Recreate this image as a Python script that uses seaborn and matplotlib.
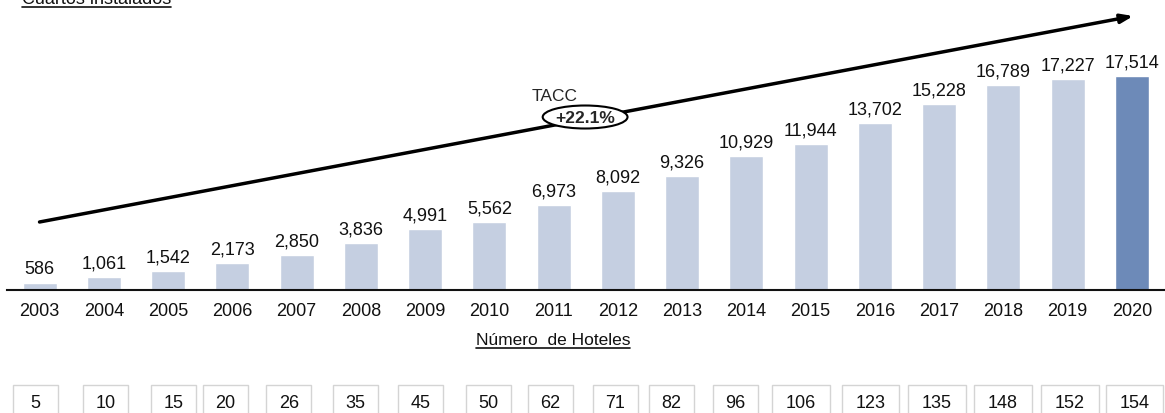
import matplotlib
matplotlib.use("Agg")
import matplotlib.pyplot as plt
from matplotlib.patches import Ellipse, Rectangle
from matplotlib.lines import Line2D
import seaborn as sns

# data
years = [str(y) for y in range(2003, 2021)]
rooms = [586, 1061, 1542, 2173, 2850, 3836, 4991, 5562, 6973, 8092,
         9326, 10929, 11944, 13702, 15228, 16789, 17227, 17514]
hotels = [5, 10, 15, 20, 26, 35, 45, 50, 62, 71, 82, 96, 106, 123, 135, 148, 152, 154]
cagr_label = "+22.1%"

# layout: small shifts of the hotel boxes relative to the bars (as in the original)
box_shift = [-0.06, 0.03, 0.08, -0.11, -0.12, -0.08, -0.07, -0.01, -0.05,
             -0.04, -0.17, -0.17, -0.15, -0.07, -0.04, -0.01, 0.03, 0.04]

light = "#c5cfe1"
dark = "#6d8ab8"
colors = [light] * (len(years) - 1) + [dark]

sns.set_theme(style="white")
plt.rcParams["font.family"] = ["Liberation Sans", "DejaVu Sans"]

W, H = 1165, 414
fig = plt.figure(figsize=(W / 100, H / 100), dpi=100)

# main bar axes
ax = fig.add_axes([7.4 / W, 123 / H, 1156.7 / W, 291 / H])
sns.barplot(x=years, y=rooms, hue=years, palette=colors, legend=False,
            width=0.53, saturation=1, ax=ax)
ax.set_xlim(-0.5, 17.5)
ax.set_ylim(0, 23814)
for c in ax.containers:
    ax.bar_label(c, labels=[f"{int(round(v)):,}" for v in c.datavalues],
                 padding=4, fontsize=13, color="#111111")
ax.set_yticks([])
ax.set_xlabel("")
ax.set_ylabel("")
ax.tick_params(axis="x", length=0, pad=8.5, labelsize=13, labelcolor="#111111")
for s in ["top", "left", "right"]:
    ax.spines[s].set_visible(False)
ax.spines["bottom"].set_color("#111111")
ax.spines["bottom"].set_linewidth(1.5)

# growth arrow
ax.annotate("", xy=(17.02, 22420), xytext=(0.0, 5565),
            arrowprops=dict(arrowstyle="-|>,head_length=0.6,head_width=0.22",
                            color="black", lw=2.5, shrinkA=0, shrinkB=0),
            annotation_clip=False)
ax.add_patch(Ellipse((8.49, 14157), 1.32, 1882, facecolor="white",
                     edgecolor="black", lw=1.5, zorder=5, clip_on=False))
ax.text(8.49, 14157, cagr_label, ha="center", va="center", fontsize=12.5,
        fontweight="bold", zorder=6)
ax.text(8.02, 15957, "TACC", ha="center", va="center", fontsize=12.5)

# hotel count boxes
ax2 = fig.add_axes([7.4 / W, 0, 1156.7 / W, 28 / H])
ax2.set_xlim(-0.5, 17.5)
ax2.set_ylim(0, 1)
ax2.axis("off")
for i, (n, sh) in enumerate(zip(hotels, box_shift)):
    w = 0.70 if n < 100 else 0.90
    ax2.add_patch(Rectangle((i + sh - w / 2, -1), w, 2, facecolor="white",
                            edgecolor="#d4d4d4", lw=1, clip_on=False))
    ax2.text(i + sh, 0.36, str(n), ha="center", va="center", fontsize=13,
             color="#111111")


def underlined(x, y, s, line_y, **kw):
    t = fig.text(x, y, s, **kw)
    fig.canvas.draw()
    bb = t.get_window_extent()
    fig.add_artist(Line2D([bb.x0 / W, bb.x1 / W], [line_y, line_y],
                          transform=fig.transFigure, color="#111111", lw=1.2))
    return t


underlined(22 / W, 1 + 1 / H, "Cuartos instalados", 1 - 8 / H,
           ha="left", va="center", fontsize=13, color="#111111")
underlined(553 / W, 1 - 341 / H, "Número  de Hoteles", 1 - 349 / H,
           ha="center", va="center", fontsize=12.5, color="#111111")

fig.savefig("out.png", dpi=100)
